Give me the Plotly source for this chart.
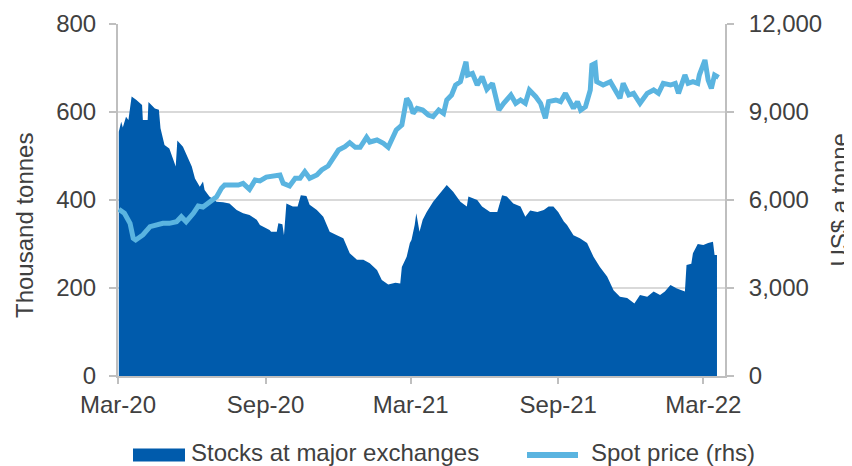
import plotly.graph_objects as go

# ---------------- data ----------------
stock_dates = [
    "2020-03-02", "2020-03-05", "2020-03-07", "2020-03-11", "2020-03-14", "2020-03-18",
    "2020-03-24", "2020-03-31", "2020-04-01", "2020-04-07", "2020-04-08", "2020-04-16",
    "2020-04-21", "2020-04-23", "2020-04-28", "2020-05-04", "2020-05-12", "2020-05-14",
    "2020-05-21", "2020-05-29", "2020-06-01", "2020-06-05", "2020-06-11", "2020-06-15",
    "2020-06-17", "2020-06-23", "2020-07-02", "2020-07-10", "2020-07-18", "2020-07-27",
    "2020-08-04", "2020-08-12", "2020-08-21", "2020-08-25", "2020-09-02", "2020-09-06",
    "2020-09-08", "2020-09-15", "2020-09-17", "2020-09-22", "2020-09-24", "2020-09-27",
    "2020-10-05", "2020-10-11", "2020-10-15", "2020-10-22", "2020-10-26", "2020-11-04",
    "2020-11-12", "2020-11-20", "2020-11-29", "2020-12-07", "2020-12-15", "2020-12-24",
    "2021-01-01", "2021-01-09", "2021-01-18", "2021-01-24", "2021-02-01", "2021-02-10",
    "2021-02-16", "2021-02-18", "2021-02-24", "2021-02-28", "2021-03-02", "2021-03-06",
    "2021-03-08", "2021-03-12", "2021-03-16", "2021-03-21", "2021-03-29", "2021-04-07",
    "2021-04-15", "2021-04-23", "2021-05-02", "2021-05-10", "2021-05-12", "2021-05-23",
    "2021-05-29", "2021-06-08", "2021-06-17", "2021-06-23", "2021-06-29", "2021-07-07",
    "2021-07-16", "2021-07-22", "2021-07-28", "2021-08-06", "2021-08-14", "2021-08-20",
    "2021-08-26", "2021-09-01", "2021-09-08", "2021-09-12", "2021-09-20", "2021-09-28",
    "2021-10-07", "2021-10-15", "2021-10-23", "2021-11-01", "2021-11-09", "2021-11-17",
    "2021-11-26", "2021-12-05", "2021-12-12", "2021-12-21", "2021-12-29", "2022-01-06",
    "2022-01-12", "2022-01-19", "2022-01-27", "2022-02-06", "2022-02-08", "2022-02-14",
    "2022-02-16", "2022-02-22", "2022-03-01", "2022-03-07", "2022-03-13", "2022-03-15",
    "2022-03-18",
]
stock_values = [
    555, 578, 565, 589, 582, 635,
    627, 616, 582, 582, 623, 608,
    605, 563, 525, 517, 476, 535,
    521, 491, 476, 449, 430, 442,
    423, 408, 396, 395, 392, 377,
    370, 366, 355, 343, 336, 332,
    328, 328, 347, 345, 320, 392,
    385, 385, 411, 409, 389, 377,
    362, 328, 320, 313, 279, 264,
    264, 256, 241, 218, 208, 212,
    210, 248, 271, 302, 309, 343,
    370, 328, 355, 373, 396, 415,
    434, 419, 396, 385, 408, 400,
    385, 373, 373, 411, 408, 392,
    385, 362, 376, 373, 377, 385,
    385, 373, 351, 343, 320, 313,
    302, 271, 248, 226, 195, 180,
    177, 165, 184, 180, 192, 184,
    192, 207, 199, 192, 252, 255,
    279, 300, 298, 302, 305, 275,
    275,
]

price_dates = [
    "2020-03-02", "2020-03-09", "2020-03-16", "2020-03-20", "2020-03-23", "2020-04-01",
    "2020-04-10", "2020-04-18", "2020-04-26", "2020-05-04", "2020-05-13", "2020-05-19",
    "2020-05-25", "2020-06-03", "2020-06-09", "2020-06-15", "2020-06-23", "2020-07-02",
    "2020-07-08", "2020-07-12", "2020-07-21", "2020-07-29", "2020-08-04", "2020-08-12",
    "2020-08-19", "2020-08-25", "2020-09-02", "2020-09-10", "2020-09-19", "2020-09-23",
    "2020-10-01", "2020-10-08", "2020-10-14", "2020-10-20", "2020-10-26", "2020-11-04",
    "2020-11-10", "2020-11-18", "2020-11-25", "2020-12-01", "2020-12-09", "2020-12-15",
    "2020-12-22", "2020-12-28", "2021-01-05", "2021-01-09", "2021-01-18", "2021-01-26",
    "2021-02-01", "2021-02-07", "2021-02-11", "2021-02-18", "2021-02-24", "2021-02-28",
    "2021-03-04", "2021-03-09", "2021-03-16", "2021-03-23", "2021-03-29", "2021-04-05",
    "2021-04-11", "2021-04-15", "2021-04-21", "2021-04-26", "2021-05-02", "2021-05-09",
    "2021-05-11", "2021-05-17", "2021-05-23", "2021-05-29", "2021-06-04", "2021-06-11",
    "2021-06-19", "2021-06-25", "2021-07-04", "2021-07-10", "2021-07-16", "2021-07-22",
    "2021-07-27", "2021-08-04", "2021-08-10", "2021-08-16", "2021-08-20", "2021-08-29",
    "2021-09-04", "2021-09-10", "2021-09-16", "2021-09-20", "2021-09-25", "2021-09-29",
    "2021-10-05", "2021-10-11", "2021-10-13", "2021-10-17", "2021-10-19", "2021-10-27",
    "2021-11-05", "2021-11-11", "2021-11-17", "2021-11-21", "2021-11-28", "2021-12-04",
    "2021-12-12", "2021-12-21", "2021-12-29", "2022-01-04", "2022-01-10", "2022-01-19",
    "2022-01-25", "2022-01-29", "2022-02-06", "2022-02-10", "2022-02-16", "2022-02-22",
    "2022-02-24", "2022-03-03", "2022-03-07", "2022-03-11", "2022-03-15", "2022-03-20",
]
price_values = [
    5683, 5546, 5205, 4694, 4637, 4807,
    5091, 5148, 5205, 5205, 5261, 5432,
    5261, 5546, 5795, 5760, 5942, 6113,
    6397, 6511, 6511, 6511, 6568, 6363,
    6682, 6650, 6780, 6818, 6852, 6568,
    6477, 6739, 6739, 6966, 6739, 6852,
    7023, 7159, 7420, 7704, 7818, 7954,
    7795, 7795, 8136, 7977, 8045, 7932,
    7795, 8159, 8386, 8557, 9466, 9296,
    8955, 9126, 9068, 8898, 8841, 9068,
    8955, 9409, 9579, 9920, 10033, 10715,
    10261, 10318, 9920, 10204, 9773, 9977,
    9068, 9296, 9579, 9296, 9409, 9296,
    9750, 9522, 9296, 8784, 9352, 9409,
    9352, 9636, 9300, 9126, 9352, 9068,
    9182, 9750, 10602, 10659, 10033, 9920,
    10033, 9750, 9466, 9977, 9579, 9636,
    9296, 9636, 9750, 9636, 9977, 9920,
    9977, 9636, 10261, 9977, 10033, 9977,
    10261, 10772, 10090, 9807, 10261, 10181,
]

x_tick_dates = ["2020-03-01", "2020-09-01", "2021-03-01", "2021-09-01", "2022-03-01"]
x_tick_labels = ["Mar-20", "Sep-20", "Mar-21", "Sep-21", "Mar-22"]
left_ticks = [0, 200, 400, 600, 800]
right_ticks = [0, 3000, 6000, 9000, 12000]

series_names = ["Stocks at major exchanges", "Spot price (rhs)"]
axis_titles = ["Thousand tonnes", "US$ a tonne"]

# ---------------- style ----------------
DARK = "#005BAC"
LIGHT = "#5AB4E0"
TEXT = "#404040"
AXIS = "#BFBFBF"
GRID = "#D9D9D9"
FONT = "Liberation Sans, Arial, sans-serif"

# the page body has an 8px margin, so the figure is drawn 8px in from the window edge
OFF = 8
W, H = 852 - OFF, 466 - OFF
ML, MR, MT, MB = 110, 127, 16, 90
PW, PH = W - ML - MR, H - MT - MB


def px_x(p):
    """paper x for a window pixel column"""
    return (p - OFF - ML) / PW


def px_y(p):
    """paper y for a window pixel row"""
    return (H - MB - (p - OFF)) / PH


fig = go.Figure()
fig.add_trace(go.Scatter(
    x=stock_dates, y=stock_values, name=series_names[0], mode="lines",
    line=dict(width=0, color=DARK), fill="tozeroy", fillcolor=DARK, yaxis="y",
))
fig.add_trace(go.Scatter(
    x=price_dates, y=price_values, name=series_names[1], mode="lines",
    line=dict(width=5, color=LIGHT), yaxis="y2",
))

# legend drawn as swatches + text below the plot
legend_y = px_y(452.5)
shapes = [
    dict(type="rect", xref="paper", yref="paper", x0=px_x(133), x1=px_x(185),
         y0=px_y(461.5), y1=px_y(448.5), fillcolor=DARK, line=dict(width=0)),
    dict(type="line", xref="paper", yref="paper", x0=px_x(527), x1=px_x(578),
         y0=px_y(455), y1=px_y(455), line=dict(color=LIGHT, width=6)),
]
annotations = [
    dict(text=series_names[0], xref="paper", yref="paper", x=px_x(189), y=legend_y,
         xanchor="left", yanchor="middle", showarrow=False, font=dict(size=24, color=TEXT)),
    dict(text=series_names[1], xref="paper", yref="paper", x=px_x(589), y=legend_y,
         xanchor="left", yanchor="middle", showarrow=False, font=dict(size=24, color=TEXT)),
    dict(text=axis_titles[0], xref="paper", yref="paper", x=px_x(24), y=px_y(226),
         textangle=-90, showarrow=False, font=dict(size=24, color=TEXT),
         xanchor="center", yanchor="middle"),
    dict(text=axis_titles[1], xref="paper", yref="paper", x=px_x(838.5), y=px_y(200),
         textangle=-90, showarrow=False, font=dict(size=24, color=TEXT),
         xanchor="center", yanchor="middle"),
]

fig.update_layout(
    width=W, height=H,
    margin=dict(l=ML, r=MR, t=MT, b=MB, autoexpand=False),
    paper_bgcolor="white", plot_bgcolor="white",
    font=dict(family=FONT, size=24, color=TEXT),
    showlegend=False,
    xaxis=dict(
        type="date", range=["2020-03-01", "2022-03-28"], automargin=False,
        tickmode="array", tickvals=x_tick_dates, ticktext=x_tick_labels,
        showgrid=False, zeroline=False, showline=True, linecolor=AXIS, linewidth=2,
        ticks="outside", ticklen=6, tickcolor=AXIS, tickwidth=2,
        ticklabelstandoff=0, tickfont=dict(size=24, color=TEXT),
    ),
    yaxis=dict(
        range=[0, 800], tickmode="array", tickvals=left_ticks, automargin=False,
        showgrid=True, gridcolor=GRID, gridwidth=1.5, zeroline=False,
        showline=True, linecolor=AXIS, linewidth=2,
        ticks="outside", ticklen=7, tickcolor=AXIS, tickwidth=2,
        ticklabelstandoff=8, tickfont=dict(size=24, color=TEXT),
    ),
    yaxis2=dict(
        range=[0, 12000], tickmode="array", tickvals=right_ticks, tickformat=",",
        overlaying="y", side="right", showgrid=False, zeroline=False, automargin=False,
        showline=True, linecolor=AXIS, linewidth=2,
        ticks="outside", ticklen=7, tickcolor=AXIS, tickwidth=2,
        ticklabelstandoff=10, tickfont=dict(size=24, color=TEXT),
    ),
    shapes=shapes,
    annotations=annotations,
)

fig.write_html("out.html")
